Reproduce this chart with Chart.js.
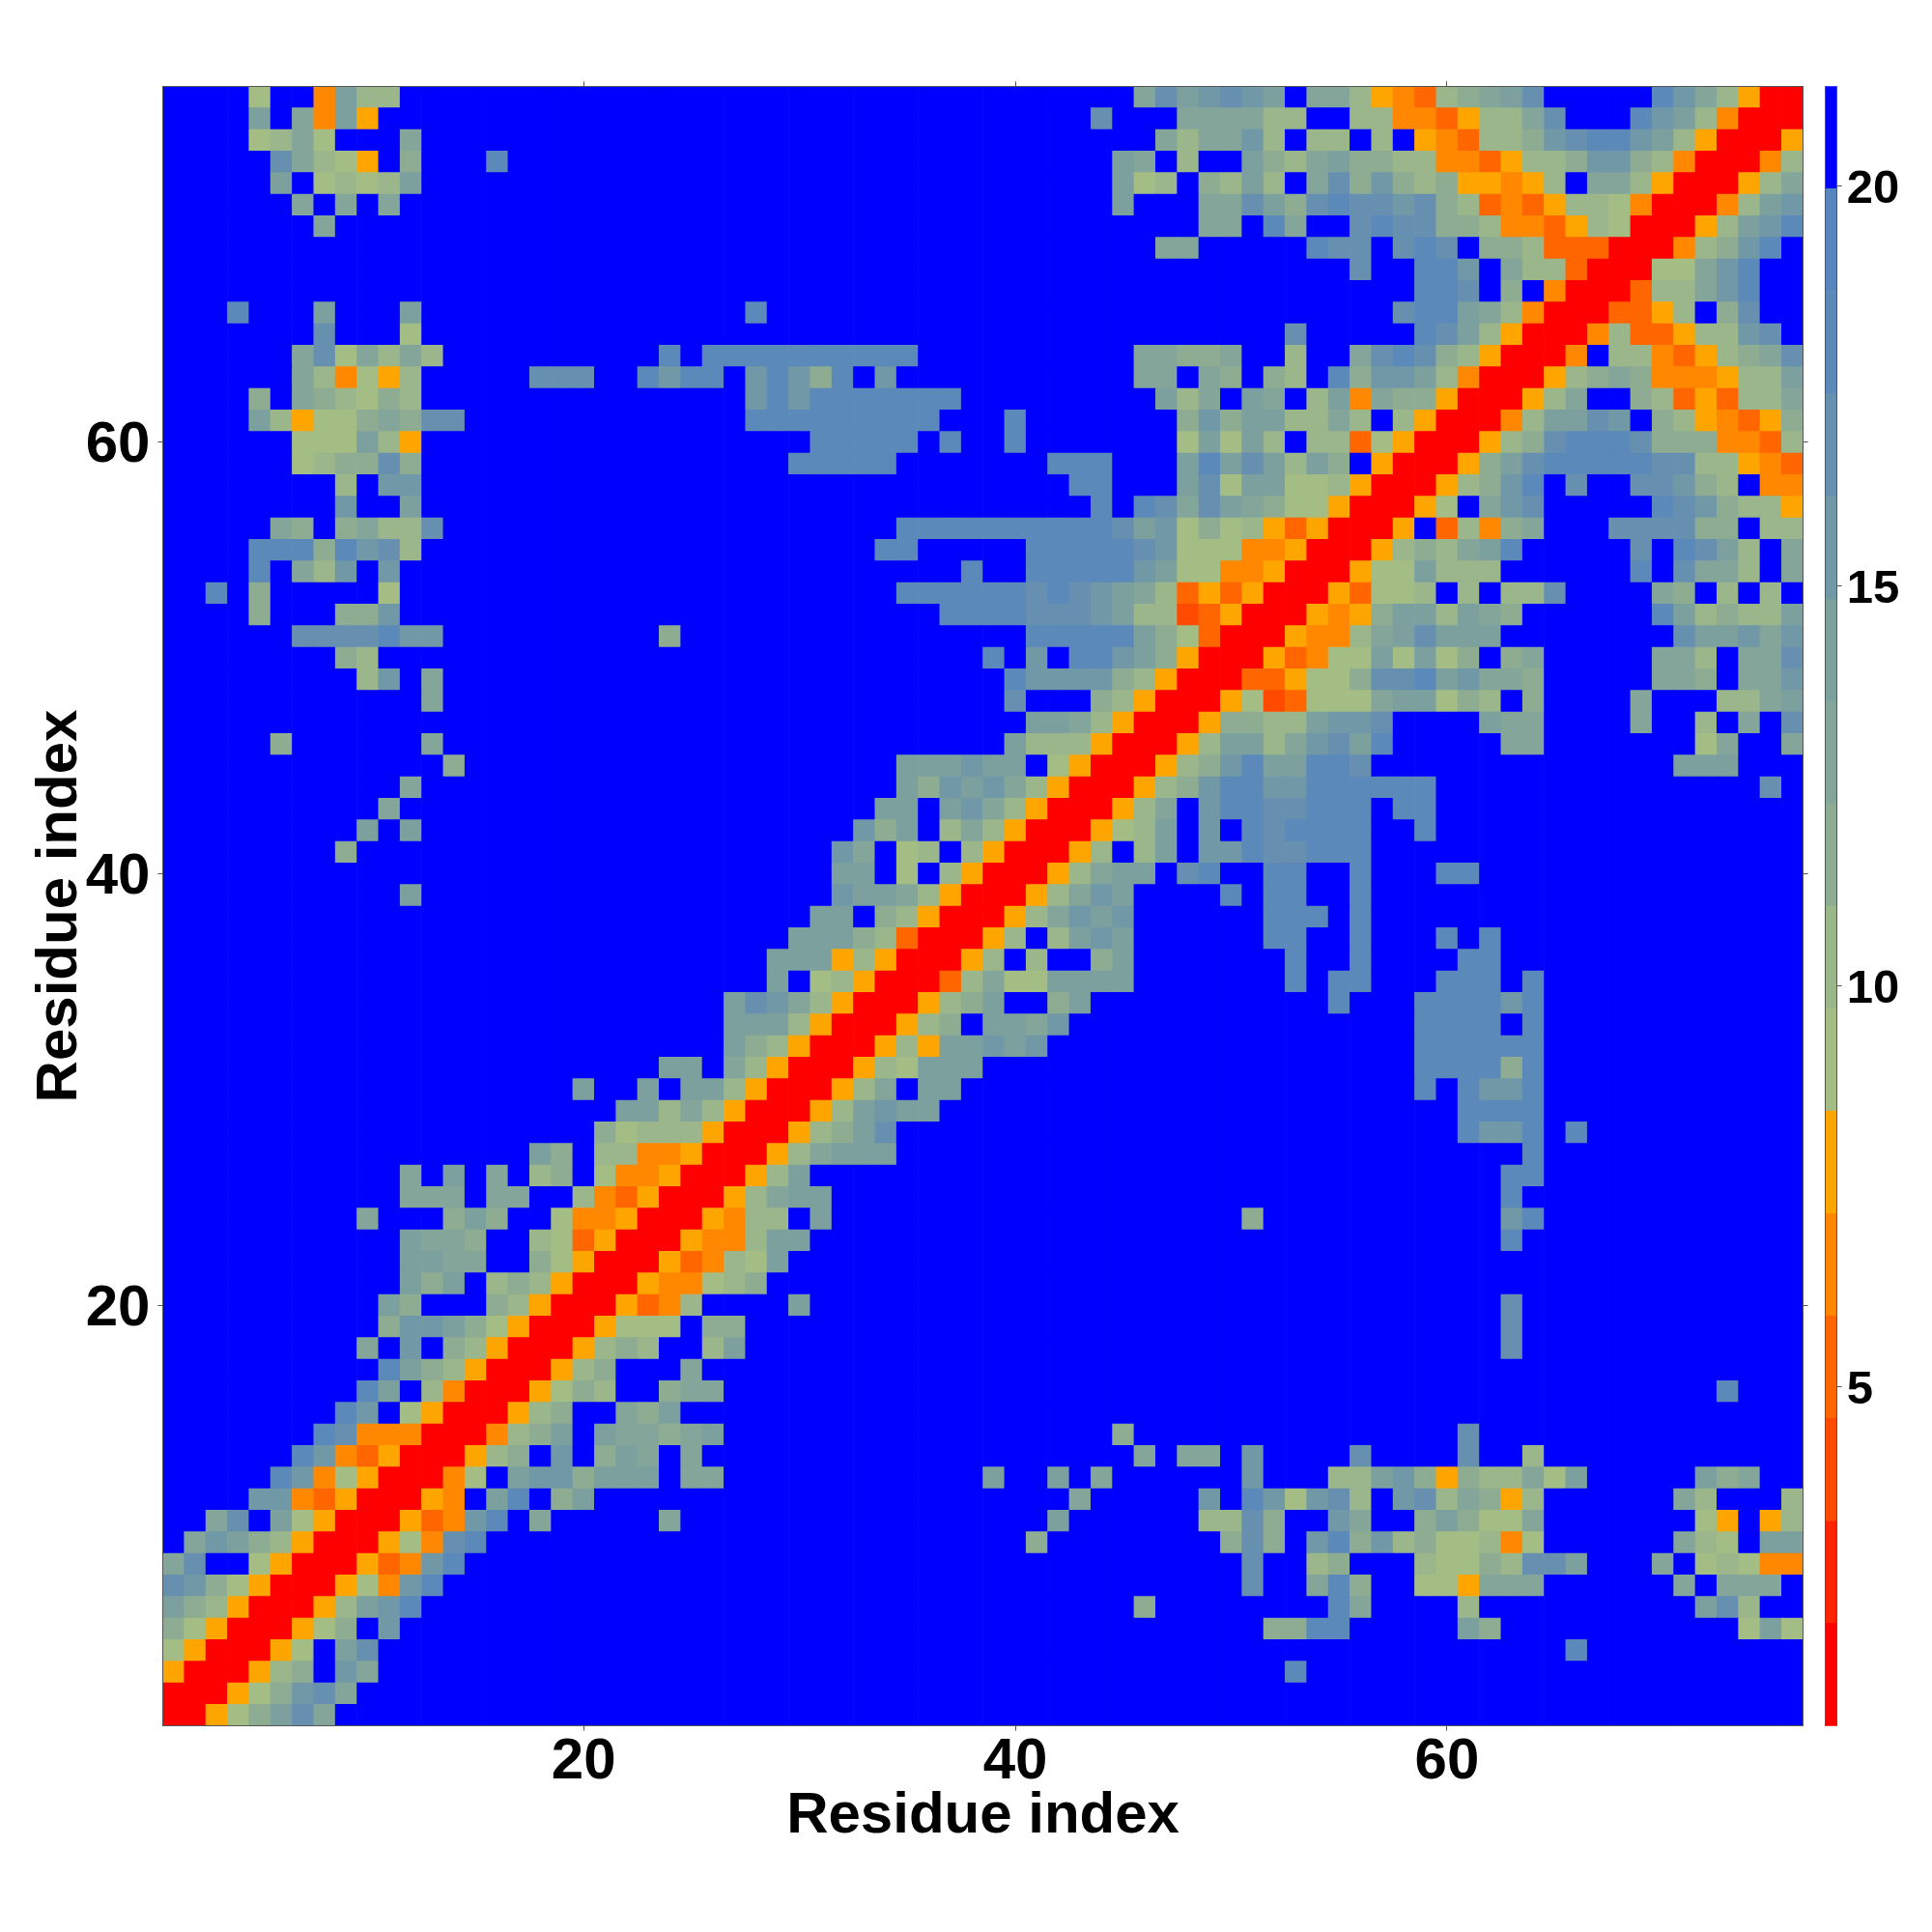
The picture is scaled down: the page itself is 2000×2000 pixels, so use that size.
<!DOCTYPE html>
<html>
<head>
<meta charset="utf-8">
<style>
html,body{margin:0;padding:0;background:#fff;width:2000px;height:2000px;overflow:hidden}
canvas{position:absolute;left:0;top:0}
</style>
<script src="https://cdn.jsdelivr.net/npm/chart.js@4/dist/chart.umd.js"></script>
</head>
<body>
<canvas id="map" width="2000" height="2000"></canvas>
<canvas id="bar" width="2000" height="2000"></canvas>
<script>
const residueCount = 76;
const axisTicks = [20, 40, 60];
const axisTitle = "Residue index";
const colorTicks = [5, 10, 15, 20];
const colorMin = 0.76;
const colorStep = 1.28;
const palette = ["#ff0000","#ff2400","#ff4a00","#ff6600","#ff8800","#ffa500",
  "#a3bd85","#9bb68a","#8eac92","#84a59a","#7ba09e","#7098a7","#6790b0","#5b89b9","#5686bd","#0000ff"];

// Upper triangle of the symmetric map: one string per residue y, starting at x = y.
// Each hex digit is the colour bin of a cell; "@n" jumps to column n; gaps and tails are the top (blue) bin.
const triangle = [
"00568ac9","00568bc9","00578fb9@53d","0056fac@66d",
"00568fb@5288dd@61a8@746a6","0057abd@468@55d9@617@72ac7",
"00564bd@51c@549d8@59665999@719f999","00534bd@51c@5478@5976687cca@709f67644",
"00564cd@418@508c8fbd8b7866746@71976faa","00534bdf9@249@42a@4977c8ffb9ff8a8669@7265f57",
"0054fadf8a@439@49bfdb6bc7fbc79857@7197@767","0046fabb8aaaf99@39a@42a@449@51b@5577ab8587796a@72a89",
"00578fbf8a9f9@469f99@51b@56c@61c@647","00478afa9989a@458@61c",
"00578ff98a","005687ff899@73d",
"00578fff9","005787ff7a@63c",
"005666f88@63c","005347@30a@63c",
"00544678","0053476a",
"005447aa@63d","005477fa@518@63bd",
"00579aa@63d","0057a@63dd",
"00579aaa@64d","00578ac@61dbbdfd",
"0057abaa@61dddd","00579faa@59dfdbbd",
"00576aaa@59dddd8d","00575aabab@59dddddd",
"00578faa9b@59ddddfd","00578aff8a@55d@59ddddbd",
"0037966aaaa@53d@55dd@60ddd@64d","0057f7ff8a@53d@56d@61dd",
"0057f7aba@52dd@56d@60d@62d","00579bab@52ddd@56d",
"00579ba@50d@52dd@56d","00579aafcd@52dd@56d@60dd",
"0057f7afbbdccddd","00567afbfdcdddd@59d",
"00579fbddccdddfdd","00578bddbbdddddd@75c",
"00578bdaaddc@71aaa","0057aa79bcad@6399@7269@769",
"0058877abbc@62a99@699@727f9fc","0056236669aa687f8@699@73779a",
"00335668ccdab998@70998f99b","0053466a6a68f89@70997f99c",
"0054479acaaa@71caab9b","005458aa7a98@70da7877a",
"0053667f7f77c@7098f7f7f","00566a777@69dfc997f9",
"0057879ad@69cfdca7f9","005f37489@68cccc88f77",
"0056f9bc@70dcb8775","00578bdfc@69ccb87f44",
"0058acdddddcc77543","00578cdddc8884437",
"0047aacbf8754358","00579ff87353779",
"0057898444577a","004f77435789c",
"004733577bcf","003357f8cff",
"003779bdff","00669bdff",
"00478bdf","0057abd",
"0047ab","00579",
"0047","005",
"00","0"
];

function buildMatrix() {
  const n = residueCount;
  const m = Array.from({length: n}, () => new Array(n).fill(15));
  triangle.forEach((text, i) => {
    let col = i, p = 0;
    while (p < text.length) {
      if (text[p] === "@") {
        col = parseInt(text.substr(p + 1, 2), 10) - 1;
        p += 3;
      } else {
        if (col < n) { const v = parseInt(text[p], 16); m[i][col] = v; m[col][i] = v; }
        col++; p++;
      }
    }
  });
  return m;
}
const bins = buildMatrix();
const valueOf = b => colorMin + (b + 0.5) * colorStep;
const colorOf = v => palette[Math.min(palette.length - 1, Math.floor((v - colorMin) / colorStep))];
const residues = Array.from({length: residueCount}, (_, i) => i + 1);

const edge = "#555555";
const fixWidth = w => a => { a.width = w; };
const fixHeight = h => a => { a.height = h; };
const setTicks = list => a => { a.ticks = list.map(v => ({value: v})); };
const tickFont = {family: "'Liberation Sans'", weight: "bold", size: 60, lineHeight: 1};
const titleFont = {family: "'Liberation Sans'", weight: "bold", size: 60, lineHeight: 1};
const plot = {left: 168.4, right: 1866.7, top: 89.3, bottom: 1786.7};

const mapDatasets = residues.map((y, iy) => ({
  data: residues.map(x => ({x, y: [y - 0.5, y + 0.5]})),
  backgroundColor: residues.map((x, ix) => colorOf(valueOf(bins[iy][ix]))),
  borderWidth: 0, barPercentage: 1, categoryPercentage: 1, grouped: false, xAxisID: "x", yAxisID: "y"
}));

const range = {type: "linear", min: 0.5, max: residueCount + 0.5, afterBuildTicks: setTicks(axisTicks)};
const marks = {offset: false, drawOnChartArea: false, drawTicks: true, tickLength: 5, tickColor: edge, tickWidth: 1};
const frame = {display: true, color: edge, width: 1, z: 2};

new Chart(document.getElementById("map"), {
  type: "bar",
  data: {datasets: mapDatasets},
  options: {
    responsive: false, animation: false, devicePixelRatio: 1,
    plugins: {legend: {display: false}, tooltip: {enabled: false}},
    layout: {padding: 0},
    scales: {
      x: {...range, position: "bottom", offset: false, grid: marks, border: frame,
        afterFit: fixHeight(2000 - plot.bottom),
        ticks: {font: tickFont, color: "#000", padding: 3, autoSkip: false, maxRotation: 0, callback: v => v},
        title: {display: true, text: axisTitle, font: titleFont, color: "#000", padding: {top: 0, bottom: 90}}},
      y: {...range, position: "left", grid: marks, border: frame,
        afterFit: fixWidth(plot.left),
        ticks: {font: tickFont, color: "#000", padding: 8, labelOffset: 4, autoSkip: false, callback: v => v},
        title: {display: true, text: axisTitle, font: titleFont, color: "#000", padding: {top: 32, bottom: 0}}},
      x2: {...range, axis: "x", position: "top", offset: false, grid: marks, border: frame,
        afterFit: fixHeight(plot.top), ticks: {display: false}},
      y2: {...range, axis: "y", position: "right", grid: marks, border: frame,
        afterFit: fixWidth(2000 - plot.right), ticks: {display: false}}
    }
  }
});

const barDatasets = palette.map((c, k) => ({
  data: [[colorMin + k * colorStep, colorMin + (k + 1) * colorStep]],
  backgroundColor: c, borderWidth: 0, barPercentage: 1, categoryPercentage: 1, grouped: false
}));
new Chart(document.getElementById("bar"), {
  type: "bar",
  data: {labels: [""], datasets: barDatasets},
  options: {
    responsive: false, animation: false, devicePixelRatio: 1,
    plugins: {legend: {display: false}, tooltip: {enabled: false}},
    layout: {padding: {left: 1889, top: plot.top, bottom: 2000 - plot.bottom}},
    scales: {
      x: {display: false},
      y: {type: "linear", position: "right", min: colorMin, max: colorMin + 16 * colorStep,
        afterBuildTicks: setTicks(colorTicks), afterFit: fixWidth(98.3),
        grid: marks, border: frame,
        ticks: {font: {...tickFont, size: 49}, color: "#000", padding: 5, labelOffset: 4, autoSkip: false, callback: v => v}},
      yl: {type: "linear", axis: "y", position: "left", min: colorMin, max: colorMin + 16 * colorStep,
        afterFit: fixWidth(0), grid: {display: false}, border: frame, ticks: {display: false}}
    }
  }
});
</script>
</body>
</html>
